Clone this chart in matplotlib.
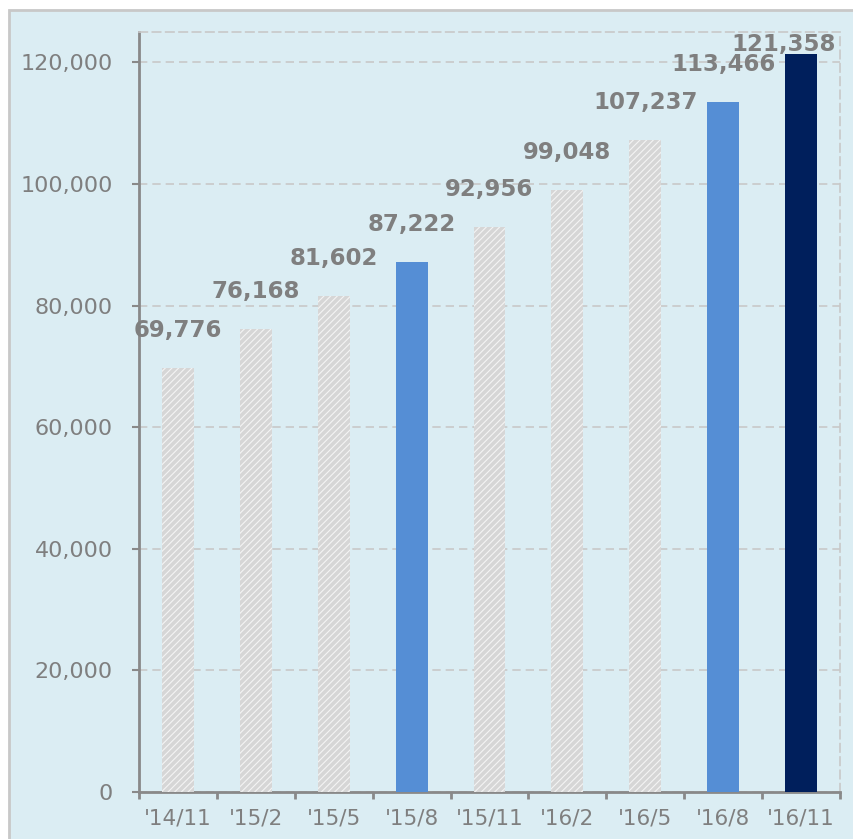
import matplotlib.pyplot as plt
from matplotlib.patches import Rectangle

categories = ["'14/11", "'15/2", "'15/5", "'15/8", "'15/11", "'16/2", "'16/5", "'16/8", "'16/11"]
values = [69776, 76168, 81602, 87222, 92956, 99048, 107237, 113466, 121358]
kinds = ['hatch', 'hatch', 'hatch', 'blue', 'hatch', 'hatch', 'hatch', 'blue', 'navy']
yticks = [0, 20000, 40000, 60000, 80000, 100000, 120000]

bg = '#dbedf3'
gray_txt = '#7f7f7f'
plt.rcParams['hatch.linewidth'] = 0.8

fig = plt.figure(figsize=(8.54, 8.39), dpi=100)
fig.patches.append(Rectangle((9/854, -0.05), 1.1, 1.05 - 10/839, transform=fig.transFigure,
                             facecolor=bg, edgecolor='#c8c8c8', linewidth=2, zorder=-10))
ax = fig.add_axes([139/854, 1 - 792/839, 701/854, 760/839])
ax.set_facecolor('none')

x = list(range(len(values)))
for i, (v, k) in enumerate(zip(values, kinds)):
    if k == 'hatch':
        ax.bar(i, v, width=0.41, color='#d6d6d6', edgecolor='#f4f4f4', hatch='/////', linewidth=0, zorder=3)
    elif k == 'blue':
        ax.bar(i, v, width=0.41, color='#558ed5', linewidth=0, zorder=3)
    else:
        ax.bar(i, v, width=0.41, color='#001f5c', linewidth=0, zorder=3)

for i, v in enumerate(values):
    label = f'{v:,}'
    if i == len(values) - 1:
        ax.annotate(label, xy=(len(values) - 0.5, v), xytext=(-3, 7), textcoords='offset points',
                    ha='right', va='center', fontsize=16.5, fontweight='bold', color=gray_txt, zorder=5)
    else:
        ax.annotate(label, xy=(i, v), xytext=(0, 27), textcoords='offset points',
                    ha='center', va='center', fontsize=16.5, fontweight='bold', color=gray_txt, zorder=5)

ax.set_xlim(-0.5, len(values) - 0.5)
ax.set_ylim(0, 125000)
ax.set_yticks(yticks)
ax.set_yticklabels([f'{t:,}' for t in yticks])
ax.set_xticks([i - 0.5 for i in range(len(values) + 1)], minor=False)
ax.set_xticklabels([])
ax.set_xticks(x, minor=True)
ax.set_xticklabels(categories, minor=True)
ax.tick_params(axis='x', which='minor', length=0, pad=12, labelsize=15.5, labelcolor=gray_txt)
ax.tick_params(axis='x', which='major', length=5, width=2, color='#898989')
ax.tick_params(axis='y', length=5, width=1.5, color='#898989', labelsize=16, labelcolor=gray_txt, pad=14)

ax.yaxis.grid(True, linestyle=(0, (5, 3)), color='#c8c8c8', linewidth=1.2, zorder=0)
ax.set_axisbelow(True)
for s in ['left', 'bottom']:
    ax.spines[s].set_color('#898989')
    ax.spines[s].set_linewidth(2)
for s in ['top', 'right']:
    ax.spines[s].set_color('#c8c8c8')
    ax.spines[s].set_linewidth(1.2)
    ax.spines[s].set_linestyle((0, (5, 3)))

fig.savefig('out.png', dpi=100)
